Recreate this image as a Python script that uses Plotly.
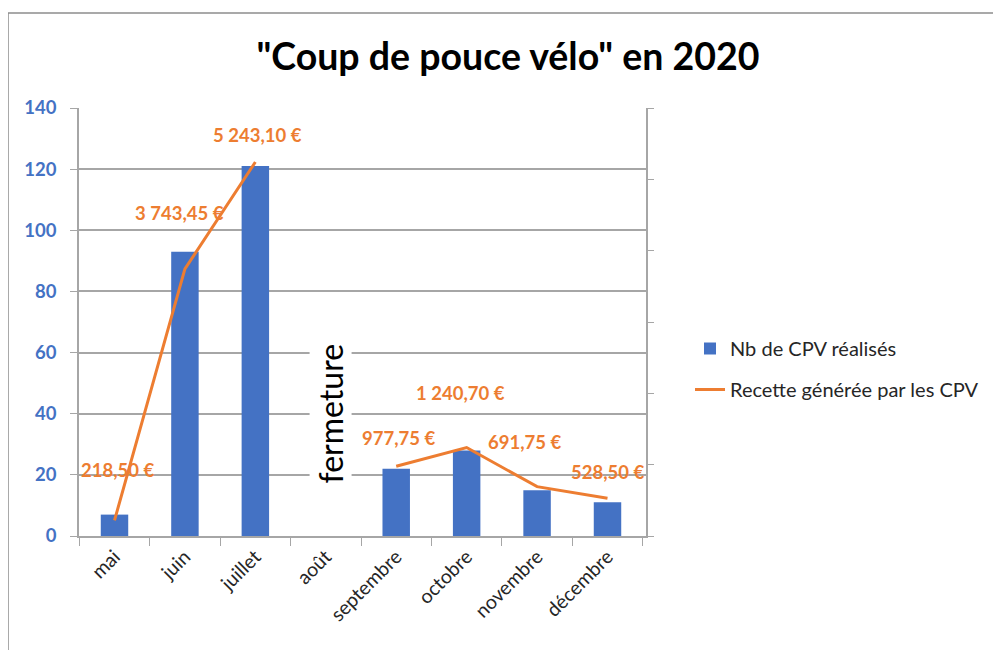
import plotly.graph_objects as go

months = ["mai", "juin", "juillet", "août", "septembre", "octobre", "novembre", "décembre"]
nb_cpv = [7, 93, 121, None, 22, 28, 15, 11]
recette = [218.50, 3743.45, 5243.10, None, 977.75, 1240.70, 691.75, 528.50]
y_ticks = [0, 20, 40, 60, 80, 100, 120, 140]

# label pixel offsets (style only)
label_dx = [3, -5, 2, 0, 2, -6, -13, 0]
label_dy = [50, 56, 27, 0, 28, 55, 45, 26]

BLUE = "#4472C4"
ORANGE = "#ED7D31"
GRID = "#a6a6a6"
FONT = "Lato"

# page offset (body margin) and plot area in figure pixels
L, R, T, B = 71, 638, 100, 528
W, H = 1001, 650
PW, PH = R - L, B - T


def px_x(sx):
    return (sx - 8 - L) / PW


def px_y(sy):
    return (B - (sy - 8)) / PH


def fmt_eur(v):
    s = f"{v:,.2f}".replace(",", " ").replace(".", ",")
    return s + " €"


fig = go.Figure()
fig.add_trace(go.Bar(
    x=months, y=nb_cpv, name="Nb de CPV réalisés",
    marker=dict(color=BLUE, line=dict(width=0)),
    legendgroup="a", yaxis="y",
))
fig.add_trace(go.Scatter(
    x=months, y=recette, name="Recette générée par les CPV",
    mode="lines", line=dict(color=ORANGE, width=3),
    connectgaps=False, legendgroup="b", yaxis="y2",
))

annotations = []
for m, v, dx, dy in zip(months, recette, label_dx, label_dy):
    if v is None:
        continue
    annotations.append(dict(
        x=m, y=v, xref="x", yref="y2", text=fmt_eur(v), showarrow=False,
        xshift=dx, yshift=dy,
        font=dict(family=FONT, size=18.5, color=ORANGE, weight="bold"),
    ))

annotations.append(dict(
    x="août", y=40, xref="x", yref="y", text="fermeture", showarrow=False,
    textangle=-90, xshift=5, bgcolor="white",
    font=dict(family=FONT, size=32, color="black"),
))

fig.update_layout(
    width=W, height=H,
    margin=dict(l=L, r=W - R, t=T, b=H - B, autoexpand=False),
    paper_bgcolor="white", plot_bgcolor="white",
    title=dict(text='"Coup de pouce vélo" en 2020', x=500 / W, xanchor="center",
               y=1 - 49 / H, yref="container", yanchor="middle",
               font=dict(family=FONT, size=37.5, color="black", weight="bold")),
    font=dict(family=FONT, color="#262626"),
    bargap=0.61,
    showlegend=True,
    legend=dict(x=px_x(690), xanchor="left", y=px_y(329), yanchor="top",
                yref="paper", xref="paper",
                font=dict(family=FONT, size=20, color="#262626"),
                tracegroupgap=12, traceorder="grouped", itemwidth=30,
                bgcolor="rgba(0,0,0,0)"),
    xaxis=dict(type="category", showline=True, linecolor=GRID, linewidth=1.5,
               ticks="outside", tickson="boundaries", ticklen=8, tickcolor=GRID,
               tickangle=-45, showgrid=False,
               tickfont=dict(family=FONT, size=19.5, color="#262626")),
    yaxis=dict(range=[0, 140], tickvals=y_ticks, showline=True, linecolor=GRID, linewidth=1.5,
               ticks="outside", ticklen=7, tickcolor=GRID, showgrid=True,
               gridcolor=GRID, gridwidth=1.5, zeroline=False, ticklabelstandoff=10,
               tickfont=dict(family=FONT, size=18.5, color=BLUE, weight="bold")),
    yaxis2=dict(range=[0, 6000], dtick=1000, overlaying="y", side="right",
                showline=True, linecolor=GRID, linewidth=1.5, ticks="outside",
                ticklen=6, tickcolor=GRID, showticklabels=False, showgrid=False,
                zeroline=False),
    annotations=annotations,
    shapes=[
        dict(type="line", xref="paper", yref="paper", x0=px_x(8), x1=px_x(1010),
             y0=px_y(13), y1=px_y(13),
             line=dict(color="#8c8c8c", width=1.5)),
        dict(type="line", xref="paper", yref="paper", x0=px_x(8), x1=px_x(8),
             y0=px_y(13), y1=px_y(660),
             line=dict(color="#8c8c8c", width=1.5)),
    ],
)

fig.write_html("out.html")
